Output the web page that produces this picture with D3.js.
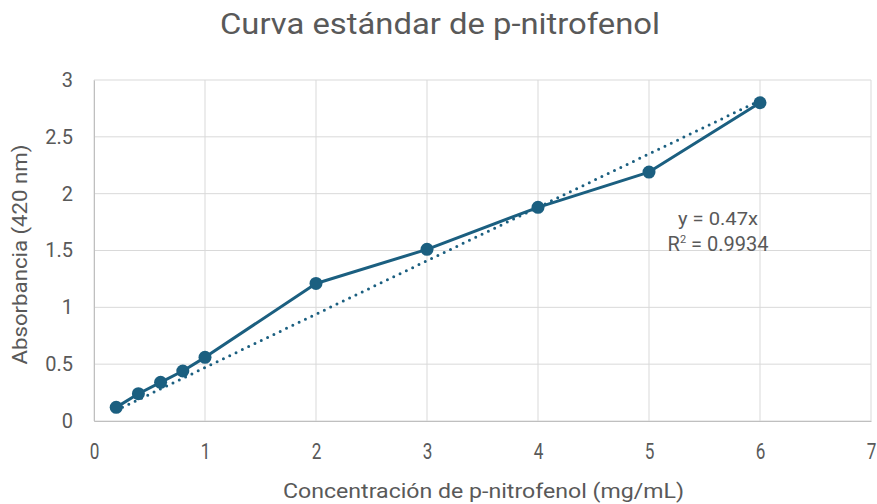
<!DOCTYPE html>
<html>
<head>
<meta charset="utf-8">
<script src="https://cdn.jsdelivr.net/npm/d3@7"></script>
<style>
  body { margin: 0; background: #fff; }
  svg { display: block; }
</style>
</head>
<body>
<div id="chart"></div>
<script>
const concentrations = [0.2, 0.4, 0.6, 0.8, 1, 2, 3, 4, 5, 6];
const absorbances = [0.12, 0.24, 0.34, 0.44, 0.56, 1.21, 1.51, 1.88, 2.19, 2.80];
const xTicks = [0, 1, 2, 3, 4, 5, 6, 7];
const yTicks = [0, 0.5, 1, 1.5, 2, 2.5, 3];
const slope = 0.47;

const W = 877, H = 504;
const margin = { top: 80, right: 6, bottom: 83, left: 94 };
const width = W - margin.left - margin.right;
const height = H - margin.top - margin.bottom;
const color = '#1b5f80';
const textColor = '#595959';

const svg = d3.select('#chart').append('svg')
  .attr('width', W).attr('height', H);

const g = svg.append('g').attr('transform', `translate(${margin.left},${margin.top})`);

const x = d3.scaleLinear().domain([0, 7]).range([0, width]);
const y = d3.scaleLinear().domain([0, 3]).range([height, 0]);

// gridlines
g.append('g').selectAll('line').data(yTicks).enter().append('line')
  .attr('x1', 0).attr('x2', width)
  .attr('y1', d => y(d)).attr('y2', d => y(d))
  .attr('stroke', '#d9d9d9').attr('stroke-width', 1);
g.append('g').selectAll('line').data(xTicks).enter().append('line')
  .attr('y1', 0).attr('y2', height)
  .attr('x1', d => x(d)).attr('x2', d => x(d))
  .attr('stroke', '#d9d9d9').attr('stroke-width', 1);

// axes
const xAxis = g.append('g').attr('transform', `translate(0,${height})`)
  .call(d3.axisBottom(x).tickValues(xTicks).tickSize(0).tickPadding(22).tickFormat(d3.format('d')));
xAxis.select('.domain').attr('stroke', '#bfbfbf');
xAxis.selectAll('text').attr('fill', textColor).style('font-size', '22px')
  .style('font-family', 'Roboto, sans-serif')
  .attr('transform', 'scale(0.78,1)');

const yAxis = g.append('g')
  .call(d3.axisLeft(y).tickValues(yTicks).tickSize(0).tickPadding(21).tickFormat(d => String(d)));
yAxis.select('.domain').attr('stroke', '#bfbfbf');
yAxis.selectAll('text').attr('fill', textColor).style('font-size', '20px')
  .style('font-family', 'Roboto, sans-serif');

// trendline (through origin, over data range)
const trendX = [d3.min(concentrations), d3.max(concentrations)];
g.append('path')
  .datum(trendX)
  .attr('fill', 'none')
  .attr('stroke', color)
  .attr('stroke-width', 3)
  .attr('stroke-linecap', 'round')
  .attr('stroke-dasharray', '0 7')
  .attr('d', d3.line().x(d => x(d)).y(d => y(slope * d)));

// data line
const pts = concentrations.map((c, i) => [c, absorbances[i]]);
g.append('path')
  .datum(pts)
  .attr('fill', 'none')
  .attr('stroke', color)
  .attr('stroke-width', 3)
  .attr('stroke-linejoin', 'round')
  .attr('d', d3.line().x(d => x(d[0])).y(d => y(d[1])));

g.selectAll('.dot').data(pts).enter().append('circle')
  .attr('class', 'dot')
  .attr('cx', d => x(d[0])).attr('cy', d => y(d[1]))
  .attr('r', 6.5).attr('fill', color);

// equation label
svg.append('text')
  .attr('fill', textColor)
  .style('font-family', 'Roboto, sans-serif')
  .style('font-size', '19px')
  .attr('text-anchor', 'middle')
  .attr('x', 718).attr('y', 225)
  .attr('textLength', 80).attr('lengthAdjust', 'spacingAndGlyphs')
  .text('y = 0.47x');
const r2 = svg.append('text')
  .attr('fill', textColor)
  .style('font-family', 'Roboto, sans-serif')
  .style('font-size', '20px')
  .attr('text-anchor', 'middle')
  .attr('x', 718).attr('y', 251);
r2.append('tspan').text('R');
r2.append('tspan').attr('dy', -8).style('font-size', '11px').text('2');
r2.append('tspan').attr('dy', 8).text(' = 0.9934');

// title
svg.append('text')
  .attr('x', 440).attr('y', 34)
  .attr('text-anchor', 'middle')
  .attr('fill', textColor)
  .style('font-family', 'Roboto, sans-serif')
  .style('font-size', '30px')
  .attr('textLength', 440).attr('lengthAdjust', 'spacingAndGlyphs')
  .text('Curva estándar de p-nitrofenol');

// axis titles
svg.append('text')
  .attr('x', margin.left + width / 2 + 1).attr('y', 498)
  .attr('text-anchor', 'middle')
  .attr('fill', textColor)
  .style('font-family', 'Roboto, sans-serif')
  .style('font-size', '21px')
  .attr('textLength', 401).attr('lengthAdjust', 'spacingAndGlyphs')
  .text('Concentración de p-nitrofenol (mg/mL)');

svg.append('text')
  .attr('transform', `translate(27,${margin.top + height / 2 + 4}) rotate(-90)`)
  .attr('text-anchor', 'middle')
  .attr('fill', textColor)
  .style('font-family', 'Roboto, sans-serif')
  .style('font-size', '20px')
  .attr('textLength', 220).attr('lengthAdjust', 'spacingAndGlyphs')
  .text('Absorbancia (420 nm)');
</script>
</body>
</html>
